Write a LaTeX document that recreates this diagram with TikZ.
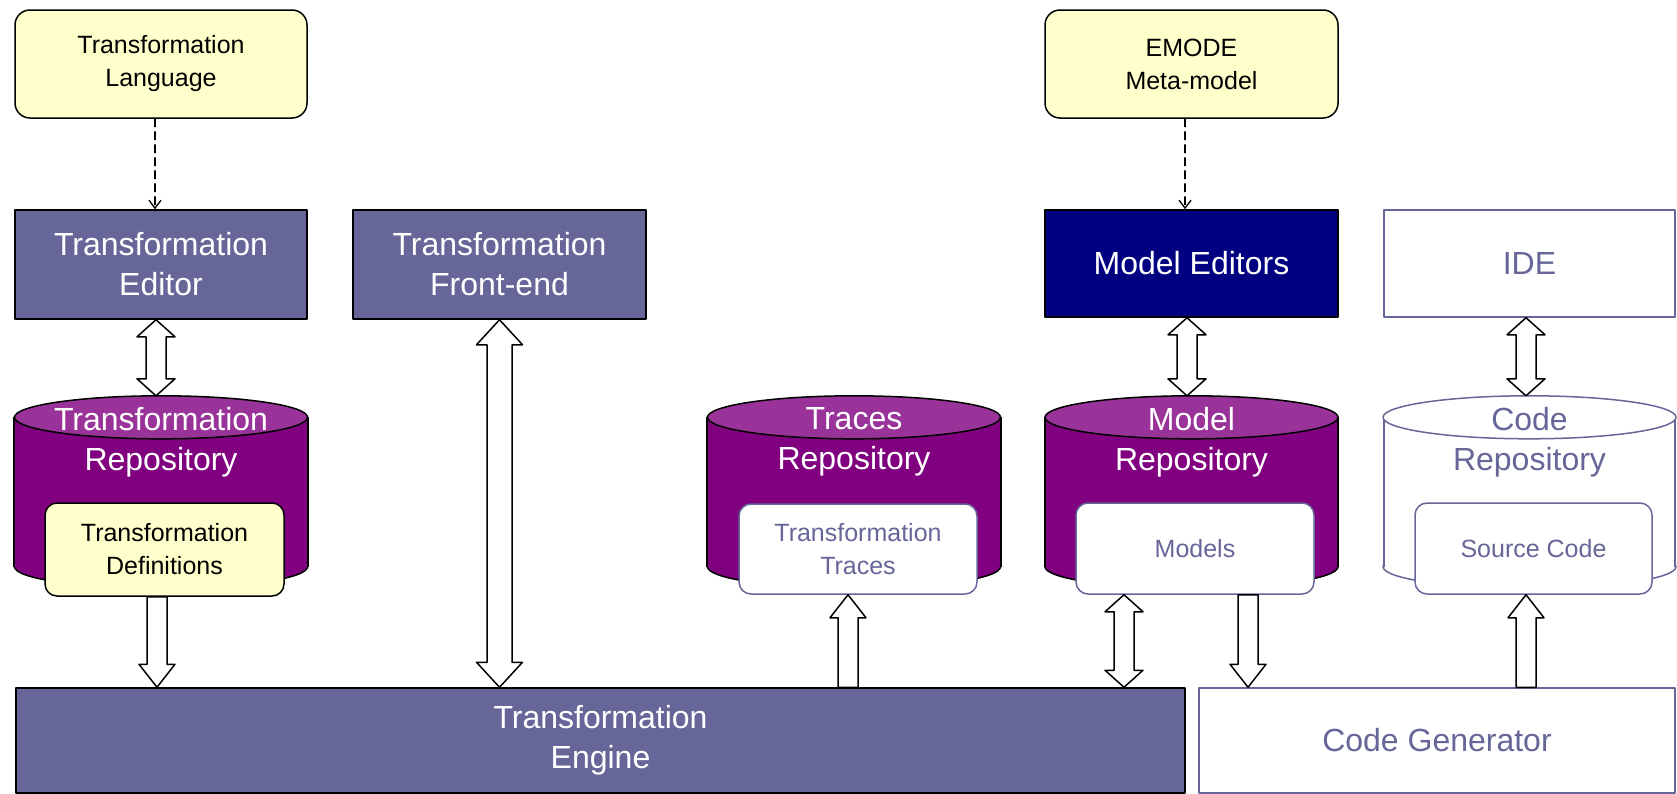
\documentclass[tikz,border=0pt]{standalone}
\usepackage{fontspec}
\setmainfont{Liberation Sans}
\usepackage{tikz}
\usetikzlibrary{calc}
\usetikzlibrary{arrows.meta}
\definecolor{ffffcc}{rgb}{1.,1.,0.8}
\definecolor{wwwwzz}{rgb}{0.4,0.4,0.6}
\definecolor{yqqqyq}{rgb}{0.5,0.,0.5}
\definecolor{zzttzz}{rgb}{0.6,0.2,0.6}
\definecolor{qqqqyq}{rgb}{0.,0.,0.5}
\newcommand\bigtext{\fontsize{32}{40}\selectfont}
\newcommand\smalltext{\fontsize{25}{33}\selectfont}
% #1 node, #2 body fill, #3 top fill, #4 outline
\newcommand\drawrepo[4]{
  \filldraw[draw=#4,fill=#2,line width=1.5pt] ($(#1.south)+(0,-21.5)$) ellipse [x radius=146.5pt,y radius=21.5pt];
  \fill[#2] ($(#1.north west)+(0,21.5)$) rectangle ($(#1.south east)+(0,-21.5)$);
  \draw[#4,line width=1.5pt] ($(#1.north west)+(0,21.5)$) -- ($(#1.south west)+(0,-21.5)$);
  \draw[#4,line width=1.5pt] ($(#1.north east)+(0,21.5)$) -- ($(#1.south east)+(0,-21.5)$);
  \filldraw[draw=#4,fill=#3,line width=1.5pt] ($(#1.north)+(0,21.5)$) ellipse [x radius=146.5pt,y radius=21.5pt];
}
\tikzstyle{every node}=[inner sep=0pt,align=center]
\tikzstyle{yellowbox}=[draw=black,fill=ffffcc,rounded corners=15pt,line width=1.5pt,font=\smalltext]
\tikzstyle{darkbox}=[draw=black,fill=wwwwzz,line width=1.5pt,text=white,font=\bigtext]
\tikzstyle{whitebox}=[draw=wwwwzz,fill=white,line width=1.5pt,text=wwwwzz,font=\bigtext]
\tikzstyle{innerbox}=[draw=wwwwzz,fill=white,rounded corners=12pt,line width=1.5pt,text=wwwwzz,font=\smalltext]
\tikzstyle{repo}=[minimum height=192pt]
\tikzstyle{usedby}=[dash pattern=on 8pt off 5pt,line width=1.3pt,-{Straight Barb[length=8pt,width=12pt]}]
\tikzset{
  onehead/.style n args={3}{draw=black,fill=white,line width=1.5pt,to path={
    ($(\tikztostart)+(-#1,0)$) -- ($(\tikztotarget)!#3pt!(\tikztostart)+(-#1,0)$)
    -- ($(\tikztotarget)!#3pt!(\tikztostart)+(-#2,0)$) -- (\tikztotarget)
    -- ($(\tikztotarget)!#3pt!(\tikztostart)+(#2,0)$) -- ($(\tikztotarget)!#3pt!(\tikztostart)+(#1,0)$)
    -- ($(\tikztostart)+(#1,0)$) -- cycle}},
  twohead/.style n args={3}{draw=black,fill=white,line width=1.5pt,to path={
    ($(\tikztostart)!#3pt!(\tikztotarget)+(-#1,0)$) -- ($(\tikztotarget)!#3pt!(\tikztostart)+(-#1,0)$)
    -- ($(\tikztotarget)!#3pt!(\tikztostart)+(-#2,0)$) -- (\tikztotarget)
    -- ($(\tikztotarget)!#3pt!(\tikztostart)+(#2,0)$) -- ($(\tikztotarget)!#3pt!(\tikztostart)+(#1,0)$)
    -- ($(\tikztostart)!#3pt!(\tikztotarget)+(#1,0)$) -- ($(\tikztostart)!#3pt!(\tikztotarget)+(#2,0)$)
    -- (\tikztostart) -- ($(\tikztostart)!#3pt!(\tikztotarget)+(-#2,0)$) -- cycle}}
}

\begin{document}
\begin{tikzpicture}[line cap=round,line join=round,x=1pt,y=-1pt]
\clip(0,0) rectangle (1677,793);

% top row
\node[yellowbox,minimum width=292pt,minimum height=108pt] (lang) at (161,64) {Transformation\\Language};
\node[yellowbox,minimum width=293pt,minimum height=108pt] (emode) at (1191.5,64) {EMODE\\Meta-model};

\node[darkbox,minimum width=292pt,minimum height=109pt] (ed) at (161,264.5) {Transformation\\Editor};
\node[darkbox,minimum width=293pt,minimum height=109pt] (fe) at (499.5,264.5) {Transformation\\Front-end};
\node[darkbox,fill=qqqqyq,minimum width=293pt,minimum height=107pt] (med) at (1191.5,263.5) {Model Editors};
\node[whitebox,minimum width=291pt,minimum height=107pt] (ide) at (1529.5,263.5) {IDE};

% repositories
\node[repo,minimum width=294pt] (trep) at (161,492) {};
\node[repo,minimum width=294pt] (tracerep) at (854,492) {};
\node[repo,minimum width=293pt] (mrep) at (1191.5,492) {};
\node[repo,minimum width=291pt] (crep) at (1529.5,492) {};
\drawrepo{trep}{yqqqyq}{zzttzz}{black}
\drawrepo{tracerep}{yqqqyq}{zzttzz}{black}
\drawrepo{mrep}{yqqqyq}{zzttzz}{black}
\drawrepo{crep}{white}{white}{wwwwzz}

\node[text=white,font=\bigtext] (treplbl) at (161,442) {Transformation\\Repository};
\node[text=white,font=\bigtext] (tracelbl) at (854,442) {Traces\\Repository};
\node[text=white,font=\bigtext] (mreplbl) at (1191.5,442) {Model\\Repository};
\node[text=wwwwzz,font=\bigtext] (creplbl) at (1529.5,442) {Code\\Repository};

\node[yellowbox,rounded corners=12pt,minimum width=239pt,minimum height=93pt] (tdef) at (164.5,549.5) {Transformation\\Definitions};
\node[innerbox,minimum width=238pt,minimum height=90pt] (ttr) at (858,549) {Transformation\\Traces};
\node[innerbox,minimum width=238pt,minimum height=91pt] (mod) at (1195,548.5) {Models};
\node[innerbox,minimum width=237pt,minimum height=91pt] (sc) at (1533.5,548.5) {Source Code};

% bottom row
\node[darkbox,minimum width=1169pt,minimum height=105pt] (eng) at (600.5,740.5) {Transformation\\Engine};
\node[whitebox,minimum width=476pt,minimum height=105pt] (cg) at (1437,740.5) {Code Generator};

% connectors
\draw[usedby] (155,0 |- lang.south) -- (155,0 |- ed.north);
\draw[usedby] (1185,0 |- emode.south) -- (1185,0 |- med.north);

\draw[twohead={10}{19}{17}] (156,0 |- ed.south) to (156,0 |- trep.north);
\draw[twohead={12.5}{23}{25}] (fe.south) to (fe.south |- eng.north);
\draw[twohead={10}{19}{17}] (1187,0 |- med.south) to (1187,0 |- mrep.north);
\draw[twohead={10}{19}{17}] (1526,0 |- ide.south) to (1526,0 |- crep.north);

\draw[onehead={10}{18}{23}] (157,0 |- tdef.south) to (157,0 |- eng.north);
\draw[onehead={10}{18}{23}] (848,0 |- eng.north) to (848,0 |- ttr.south);
\draw[twohead={10}{19}{17}] (1124,0 |- eng.north) to (1124,0 |- mod.south);
\draw[onehead={10}{18}{23}] (1248,0 |- mod.south) to (1248,0 |- cg.north);
\draw[onehead={10}{18}{23}] (1526,0 |- cg.north) to (1526,0 |- sc.south);
\end{tikzpicture}
\end{document}
